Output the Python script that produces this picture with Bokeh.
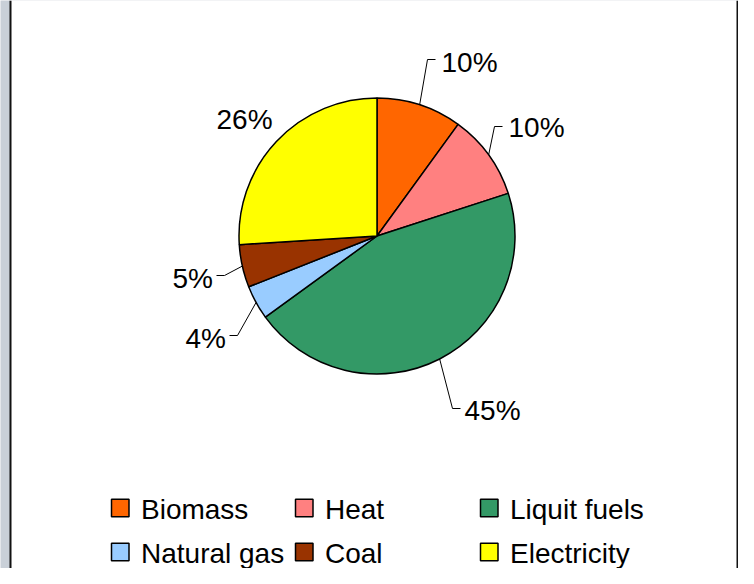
import math
from bokeh.plotting import figure
from bokeh.models import Range1d
from bokeh.core.properties import value
from bokeh.embed import file_html
from bokeh.resources import INLINE

# ---- data ----
categories = ["Biomass", "Heat", "Liquit fuels", "Natural gas", "Coal", "Electricity"]
shares = [10, 10, 45, 4, 5, 26]
colors = ["#FF6600", "#FF8080", "#339966", "#99CCFF", "#993300", "#FFFF00"]
labels = ["10%", "10%", "45%", "4%", "5%", "26%"]

# ---- layout (reference-page pixel coords) ----
W, H = 738, 568
FONT = "Liberation Sans"
FS = "28px"

def X(px):
    return px - 8

def Y(py):
    return 576 - py

CX, CY, R = 384.5, 243.5, 138
# label text left/center positions and leader elbows (page px)
label_pos = [(449, 70), (516, 135), (472, 418), (193, 346), (180, 286), (224, 127)]
elbow = [[(435, 67), (443, 67)], [(502, 134), (510, 134)], [(460, 416), (468, 416)],
         [(245, 343), (237, 343)], [(232, 283), (224, 283)], None]
leg_swatch_x = [119, 303, 488, 119, 303, 488]
leg_row_y = [515.5, 515.5, 515.5, 559.5, 559.5, 559.5]
SW = 17.5

p = figure(width=W, height=H, output_backend="svg", toolbar_location=None,
           x_range=Range1d(0, W), y_range=Range1d(0, H), min_border=0)
p.axis.visible = False
p.grid.visible = False
p.outline_line_color = None
p.background_fill_color = "#c9d0d8"
p.border_fill_color = "#c9d0d8"

# white chart area with black frame
p.quad(left=X(18), right=W, bottom=0, top=Y(2), fill_color="white", line_color=None)
p.line([X(18), X(18)], [0, H], line_color="#111111", line_width=2)
p.line([W - 1, W - 1], [0, H], line_color="#111111", line_width=2)

# pie
total = float(sum(shares))
cum = 0.0
starts, ends, mids = [], [], []
for s in shares:
    a0 = math.pi / 2 - (cum + s) / total * 2 * math.pi
    a1 = math.pi / 2 - cum / total * 2 * math.pi
    starts.append(a0)
    ends.append(a1)
    mids.append((a0 + a1) / 2)
    cum += s

p.wedge(x=X(CX), y=Y(CY), radius=R, start_angle=starts, end_angle=ends,
        fill_color=colors, line_color="black", line_width=1.5)

# leaders and labels
for i, lab in enumerate(labels):
    ex = X(CX) + R * math.cos(mids[i])
    ey = Y(CY) + R * math.sin(mids[i])
    if elbow[i] is not None:
        (bx, by), (tx, ty) = elbow[i]
        xs = [ex, X(bx), X(tx)]
        ys = [ey, Y(by), Y(ty)]
        p.line(xs, ys, line_color="black", line_width=1)
    lx, ly = label_pos[i]
    p.text(x=[X(lx)], y=[Y(ly)], text=[lab], text_font=value(FONT), text_font_size=FS,
           text_baseline="middle", text_align="left", text_color="black")

# legend
for i, cat in enumerate(categories):
    sx = leg_swatch_x[i]
    sy = leg_row_y[i]
    p.quad(left=X(sx), right=X(sx + SW), bottom=Y(sy + SW / 2), top=Y(sy - SW / 2),
           fill_color=colors[i], line_color="black", line_width=1.5)
    p.text(x=[X(sx + 29.5)], y=[Y(sy + 1)], text=[cat], text_font=value(FONT), text_font_size=FS,
           text_baseline="middle", text_align="left", text_color="black")

open("out.html", "w").write(file_html(p, INLINE))
